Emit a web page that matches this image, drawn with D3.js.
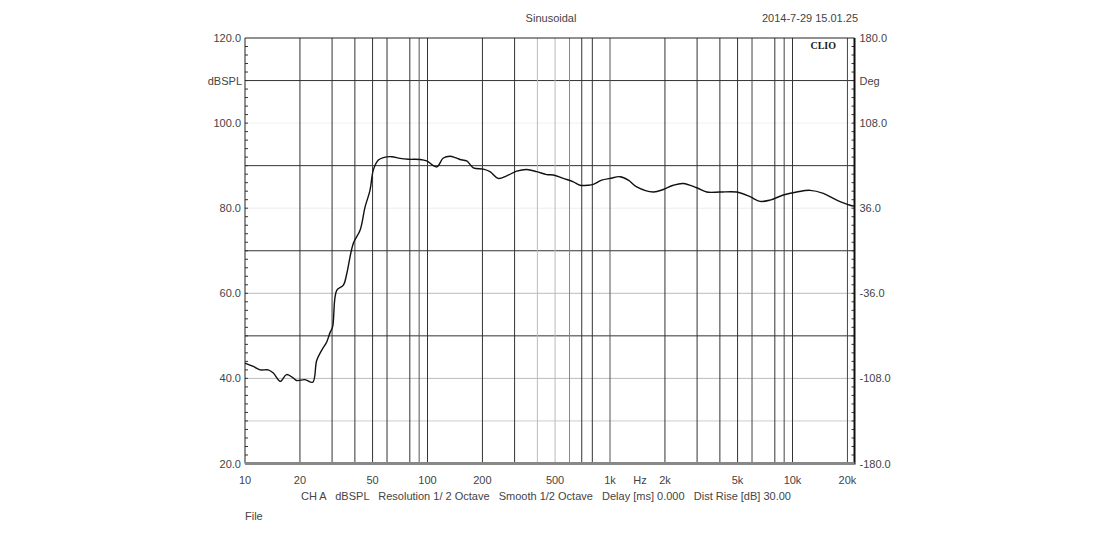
<!DOCTYPE html>
<html><head><meta charset="utf-8">
<script src="https://cdn.jsdelivr.net/npm/d3@7"></script>
<style>body{margin:0;background:#fff}svg{display:block}</style>
</head><body>
<svg id="c" width="1100" height="540"></svg>
<script>
// ---- data ----
const freqs = [10,11.1,12.1,13.4,14.3,15.6,16.9,18.4,19.2,21.3,23.5,24.7,26.3,28.0,29.2,30.2,31.8,34.6,36.1,39.2,42.7,45.5,48.4,50.5,53.8,57.3,63.7,70.7,78.5,91.0,99.0,112.3,122.1,132.9,141.5,150.7,164.0,178.2,202.3,220.0,244.3,271.6,308.2,349.6,396.6,450.1,489.1,554.8,629.5,684.7,760.4,810.0,900.5,1000,1134,1260,1401,1727,1960,2223,2521,2987,3388,4006,4945,5849,6636,7530,8905,10544,12470,14750,17470,20660,21800];
const spl   = [43.6,42.8,42.0,42.0,41.25,39.3,40.9,40.1,39.5,39.7,39.1,44.2,46.6,48.5,50.7,52.1,60.7,61.9,64.6,71.7,74.8,80.3,84.2,89.0,91.3,91.9,92.1,91.7,91.5,91.45,91.1,89.7,91.8,92.2,91.9,91.45,91.1,89.5,89.2,88.6,87.0,87.6,88.7,89.1,88.6,87.9,87.8,87.0,86.2,85.4,85.4,85.6,86.6,87.0,87.4,86.6,85.0,83.8,84.4,85.4,85.8,84.8,83.8,83.8,83.8,82.7,81.6,81.9,83.1,83.8,84.2,83.5,81.9,80.7,80.5];
const leftTicks  = [120,100,80,60,40,20];
const rightTicks = ["180.0","108.0","36.0","-36.0","-108.0","-180.0"];
const xTickVals  = [10,20,50,100,200,500,1000,2000,5000,10000,20000];
const xTickText  = ["10","20","50","100","200","500","1k","2k","5k","10k","20k"];
// vertical grid lines and their shade
const vGridFreqs  = [20,30,40,50,60,80,90,100,200,300,400,500,600,700,800,1000,2000,3000,4000,5000,6000,8000,9000,10000,20000];
const vGridShade  = ["#333","#333","#333","#333","#333","#333","#555","#333","#333","#333","#bbb","#bbb","#888","#333","#333","#555","#333","#333","#333","#333","#444","#333","#444","#333","#444"];
const hGridDb     = [110,100,90,80,70,60,50,40,30];
const hGridShade  = ["#333","#f0f0f0","#333","#ececec","#333","#bbb","#333","#bbb","#ccc"];
const footerText = "CH A   dBSPL   Resolution 1/ 2 Octave   Smooth 1/2 Octave   Delay [ms] 0.000   Dist Rise [dB] 30.00";

// ---- layout ----
const svg = d3.select("#c");
const L = 245, R = 854.5, T = 38, B = 463.5;
const x = d3.scaleLog().domain([10, 21860]).range([L, R]);
const y = d3.scaleLinear().domain([20, 120]).range([B, T]);
const font = "'Liberation Sans', Arial, sans-serif";
const txt = "#444";

// grid
svg.append("g").selectAll("line").data(hGridDb).join("line")
  .attr("x1", L).attr("x2", R).attr("y1", d => y(d)).attr("y2", d => y(d))
  .attr("stroke", (d,i) => hGridShade[i]).attr("stroke-width", 1);
svg.append("g").selectAll("line").data(vGridFreqs).join("line")
  .attr("x1", d => x(d)).attr("x2", d => x(d)).attr("y1", T).attr("y2", B)
  .attr("stroke", (d,i) => vGridShade[i]).attr("stroke-width", 1);

// minor ticks left and right (every 2 dB)
const minor = d3.range(22, 120, 2);
svg.append("g").selectAll("line").data(minor).join("line")
  .attr("x1", L).attr("x2", L + 3).attr("y1", d => y(d)).attr("y2", d => y(d))
  .attr("stroke", "#333");
svg.append("g").selectAll("line").data(minor).join("line")
  .attr("x1", R - 3).attr("x2", R).attr("y1", d => y(d)).attr("y2", d => y(d))
  .attr("stroke", "#333");

// frame
svg.append("line").attr("x1", L).attr("x2", R).attr("y1", T).attr("y2", T).attr("stroke", "#222");
svg.append("line").attr("x1", L).attr("x2", L).attr("y1", T).attr("y2", B).attr("stroke", "#222");
svg.append("line").attr("x1", R).attr("x2", R).attr("y1", T).attr("y2", B + 1).attr("stroke", "#111").attr("stroke-width", 2);
svg.append("line").attr("x1", L).attr("x2", R).attr("y1", B).attr("y2", B).attr("stroke", "#888").attr("stroke-width", 3);

// curve
const pts = freqs.map((f, i) => [f, spl[i]]);
svg.append("path").datum(pts)
  .attr("fill", "none").attr("stroke", "#111").attr("stroke-width", 1.4)
  .attr("d", d3.line().x(d => x(d[0])).y(d => y(d[1])).curve(d3.curveCatmullRom.alpha(0.5)));

// left axis labels
svg.append("g").selectAll("text").data(leftTicks).join("text")
  .attr("x", L - 4).attr("y", d => y(d) + 4).attr("text-anchor", "end")
  .attr("font-family", font).attr("font-size", 11).attr("fill", txt)
  .text(d => d.toFixed(1));
svg.append("text").attr("x", L - 3).attr("y", y(110) + 4).attr("text-anchor", "end")
  .attr("font-family", font).attr("font-size", 11).attr("fill", txt).text("dBSPL");

// right axis labels
svg.append("g").selectAll("text").data(rightTicks).join("text")
  .attr("x", R + 5).attr("y", (d,i) => y(leftTicks[i]) + 4).attr("text-anchor", "start")
  .attr("font-family", font).attr("font-size", 11).attr("fill", txt)
  .text(d => d);
svg.append("text").attr("x", R + 5).attr("y", y(110) + 4)
  .attr("font-family", font).attr("font-size", 11).attr("fill", txt).text("Deg");

// bottom labels
svg.append("g").selectAll("text").data(xTickVals).join("text")
  .attr("x", d => x(d)).attr("y", 484).attr("text-anchor", "middle")
  .attr("font-family", font).attr("font-size", 11).attr("fill", txt)
  .text((d,i) => xTickText[i]);
svg.append("text").attr("x", 640).attr("y", 484).attr("text-anchor", "middle")
  .attr("font-family", font).attr("font-size", 11).attr("fill", txt).text("Hz");

// header / footer
svg.append("text").attr("x", 551).attr("y", 22).attr("text-anchor", "middle")
  .attr("font-family", font).attr("font-size", 11).attr("fill", txt).text("Sinusoidal");
svg.append("text").attr("x", 858).attr("y", 22).attr("text-anchor", "end")
  .attr("font-family", font).attr("font-size", 11).attr("fill", txt).text("2014-7-29 15.01.25");
svg.append("text").attr("x", 836).attr("y", 49).attr("text-anchor", "end")
  .attr("font-family", "'Liberation Serif', serif").attr("font-size", 10).attr("font-weight", "bold")
  .attr("fill", "#222").text("CLIO");
svg.append("text").attr("x", 546).attr("y", 500).attr("text-anchor", "middle")
  .attr("font-family", font).attr("font-size", 11).attr("fill", txt).attr("xml:space", "preserve")
  .style("white-space", "pre").text(footerText);
svg.append("text").attr("x", 245).attr("y", 520)
  .attr("font-family", font).attr("font-size", 11).attr("fill", txt).text("File");
</script>
</body></html>
